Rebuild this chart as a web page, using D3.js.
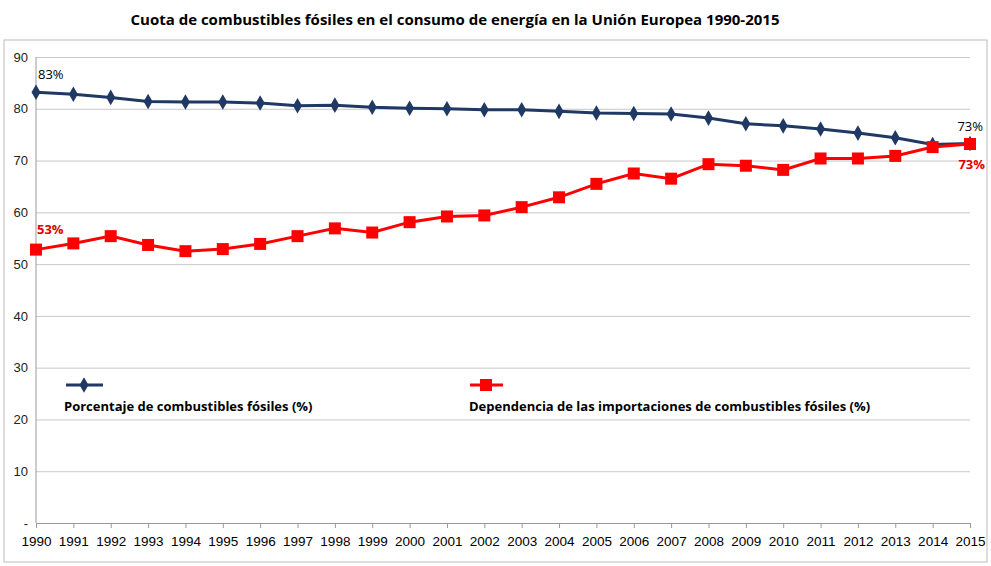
<!DOCTYPE html>
<html><head><meta charset="utf-8">
<script src="https://cdn.jsdelivr.net/npm/d3@7"></script>
<style>body{margin:0;background:#fff;font-family:"Open Sans","Liberation Sans",sans-serif}</style>
</head><body><div id="chart"></div>
<script>
const years = d3.range(1990, 2016);
const fossilShare = [83.2,82.8,82.2,81.4,81.3,81.3,81.1,80.6,80.7,80.3,80.1,80.0,79.8,79.8,79.5,79.2,79.1,79.0,78.2,77.1,76.7,76.1,75.3,74.4,73.1,73.3];
const importDep = [52.8,54.0,55.4,53.7,52.5,52.9,53.9,55.4,56.9,56.1,58.1,59.2,59.4,61.0,62.9,65.5,67.5,66.5,69.3,69.0,68.2,70.4,70.4,70.9,72.6,73.2];
const yTicks = [0,10,20,30,40,50,60,70,80,90];

const W = 991, H = 566;
const margin = {top: 57, right: 21, bottom: 43, left: 36};
const svg = d3.select("#chart").append("svg").attr("width", W).attr("height", H);

svg.append("text").attr("x", 455).attr("y", 25).attr("text-anchor", "middle")
    .style("font-size", "15px").style("font-weight", "bold")
    .text("Cuota de combustibles fósiles en el consumo de energía en la Unión Europea 1990-2015");

svg.append("rect").attr("x", 4).attr("y", 40).attr("width", 983).attr("height", 522)
    .attr("fill", "none").attr("stroke", "#bbb");

const x = d3.scaleLinear().domain([1990, 2015]).range([margin.left, W - margin.right]);
const y = d3.scaleLinear().domain([0, 90]).range([H - margin.bottom, margin.top]);

svg.append("g").attr("transform", `translate(${margin.left},0)`)
    .call(d3.axisLeft(y).tickValues(yTicks).tickSize(-(W - margin.left - margin.right))
        .tickFormat(d => d === 0 ? "-" : d))
    .call(g => g.select(".domain").remove())
    .call(g => g.selectAll("line").attr("stroke", "#c8c8c8"))
    .call(g => g.selectAll("text").attr("x", -8).attr("fill", "#222").style("font-size", "13px"));

svg.append("line").attr("x1", margin.left).attr("x2", margin.left)
    .attr("y1", margin.top).attr("y2", y(0)).attr("stroke", "#999");

svg.append("g").attr("transform", `translate(0,${y(0)})`)
    .call(d3.axisBottom(x).tickValues(years).tickFormat(d3.format("d")).tickSize(5))
    .call(g => g.select(".domain").attr("stroke", "#999"))
    .call(g => g.selectAll("line").attr("stroke", "#999"))
    .call(g => g.selectAll("text").attr("dy", "1.1em").attr("fill", "#000")
        .style("font-size", "13.5px"));

const line = d3.line().x((d, i) => x(years[i])).y(d => y(d));

svg.append("path").datum(fossilShare).attr("fill", "none").attr("stroke", "#1f3864")
    .attr("stroke-width", 3).attr("d", line);
svg.selectAll(".dia").data(fossilShare).enter().append("path")
    .attr("d", d3.symbol(d3.symbolDiamond, 70))
    .attr("transform", (d, i) => `translate(${x(years[i])},${y(d)})`).attr("fill", "#1f3864");

svg.append("path").datum(importDep).attr("fill", "none").attr("stroke", "#ff0000")
    .attr("stroke-width", 3).attr("d", line);
svg.selectAll(".sq").data(importDep).enter().append("rect")
    .attr("x", (d, i) => x(years[i]) - 6).attr("y", d => y(d) - 6)
    .attr("width", 12).attr("height", 12).attr("fill", "#ff0000");

const lab = (tx, ty, t, c, b, a) => svg.append("text").attr("x", tx).attr("y", ty)
    .attr("text-anchor", a || "start").attr("fill", c).style("font-size", "13px")
    .style("font-weight", b ? "bold" : "normal").text(t);
lab(38, 79, "83%", "#000", false);
lab(983, 131, "73%", "#000", false, "end");
lab(37, 234, "53%", "#e00000", true);
lab(985, 169, "73%", "#e00000", true, "end");

// legend
svg.append("line").attr("x1", 66).attr("x2", 103).attr("y1", 385).attr("y2", 385)
    .attr("stroke", "#1f3864").attr("stroke-width", 3);
svg.append("path").attr("d", d3.symbol(d3.symbolDiamond, 70))
    .attr("transform", "translate(84,385)").attr("fill", "#1f3864");
lab(64, 411, "Porcentaje de combustibles fósiles (%)", "#000", true);
svg.append("line").attr("x1", 470).attr("x2", 503).attr("y1", 385).attr("y2", 385)
    .attr("stroke", "#ff0000").attr("stroke-width", 3);
svg.append("rect").attr("x", 480).attr("y", 379).attr("width", 12).attr("height", 12).attr("fill", "#ff0000");
lab(469, 411, "Dependencia de las importaciones de combustibles fósiles (%)", "#000", true);
</script></body></html>
